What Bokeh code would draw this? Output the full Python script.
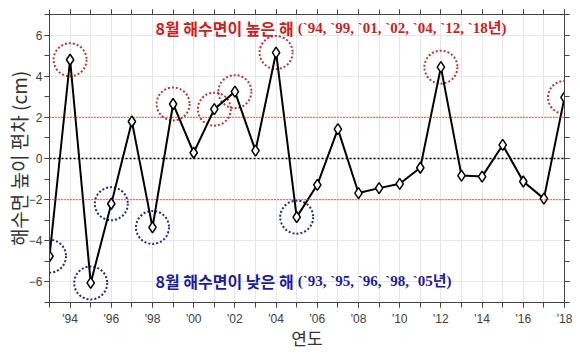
from bokeh.plotting import figure
from bokeh.models import FixedTicker, LinearAxis, Range1d, Span, Label
from bokeh.embed import file_html
from bokeh.resources import INLINE

# ---- data ----
years = list(range(1993, 2019))
anomaly = [-4.75, 4.8, -6.05, -2.2, 1.8, -3.35, 2.65, 0.28, 2.4, 3.25,
           0.38, 5.15, -2.85, -1.28, 1.43, -1.68, -1.44, -1.23, -0.45, 4.44,
           -0.83, -0.88, 0.66, -1.12, -1.95, 2.97]
high_years = [1994, 1999, 2001, 2002, 2004, 2012, 2018]
low_years = [1993, 1995, 1996, 1998, 2005]
thresholds = [2, -2]
xtick_years = list(range(1994, 2019, 2))
xtick_labels = ["'" + str(y)[2:] for y in xtick_years]
yticks = [-6, -4, -2, 0, 2, 4, 6]
yminor = list(range(-7, 8))
high_label = "8월 해수면이 높은 해"
low_label = "8월 해수면이 낮은 해"
high_list = "(" + ", ".join("`" + str(y)[2:] for y in high_years) + "년)"
low_list = "(" + ", ".join("`" + str(y)[2:] for y in low_years) + "년)"
x_title = "연도"
y_title = "해수면 높이 편차 (cm)"

RED = "#d41c1c"
BLUE = "#1c1ca0"
RED_C = "#c8323c"
BLUE_C = "#2424a0"
AX = "#444444"

p = figure(width=572, height=352, x_range=Range1d(1993, 2018), y_range=Range1d(-7, 7),
           output_backend="svg", toolbar_location=None,
           min_border_left=49, min_border_right=8, min_border_top=14, min_border_bottom=49,
           outline_line_color=AX)

def style_axis(ax, labels=True):
    ax.axis_line_color = AX
    ax.major_tick_line_color = AX
    ax.minor_tick_line_color = AX
    ax.major_tick_in = 0
    ax.major_tick_out = 5
    ax.minor_tick_in = 0
    ax.minor_tick_out = 5
    if labels:
        ax.major_label_text_font = "Liberation Sans"
        ax.major_label_text_font_size = "12px"
        ax.major_label_text_color = "#404040"
        ax.major_label_standoff = 2
    else:
        ax.major_label_text_font_size = "0px"
        ax.major_label_text_color = None
        ax.major_label_standoff = 0

bottom = p.xaxis[0]
left = p.yaxis[0]
bottom.ticker = FixedTicker(ticks=xtick_years, minor_ticks=years)
bottom.major_label_overrides = {y: l for y, l in zip(xtick_years, xtick_labels)}
style_axis(bottom)
bottom.major_label_standoff = 4
left.ticker = FixedTicker(ticks=yticks, minor_ticks=yminor)
style_axis(left)

top = LinearAxis(ticker=FixedTicker(ticks=xtick_years, minor_ticks=years))
style_axis(top, labels=False)
p.add_layout(top, "above")
right = LinearAxis(ticker=FixedTicker(ticks=yticks, minor_ticks=yminor))
style_axis(right, labels=False)
p.add_layout(right, "right")

bottom.axis_label = x_title
bottom.axis_label_text_font = "Noto Sans CJK KR"
bottom.axis_label_text_font_style = "normal"
bottom.axis_label_text_font_size = "17px"
bottom.axis_label_text_color = "#333333"
bottom.axis_label_standoff = -4

left.axis_label = y_title
left.axis_label_text_font = "Noto Sans CJK KR"
left.axis_label_text_font_style = "normal"
left.axis_label_text_font_size = "19px"
left.axis_label_text_color = "#333333"
left.axis_label_standoff = -6

p.xgrid.ticker = FixedTicker(ticks=years)
p.ygrid.ticker = FixedTicker(ticks=yticks)
p.xgrid.grid_line_color = "#e6e6e6"
p.ygrid.grid_line_color = "#e6e6e6"

for t in thresholds:
    p.add_layout(Span(location=t, dimension="width", line_color="#cc1111",
                      line_width=1.2, line_dash="1 2"))
p.add_layout(Span(location=0, dimension="width", line_color="black",
                  line_width=1.5, line_dash="2 2"))

val = dict(zip(years, anomaly))
p.scatter(high_years, [val[y] for y in high_years], marker="circle", size=33,
          fill_color=None, line_color=RED_C, line_width=2, line_dash="2 2")
p.scatter(low_years, [val[y] for y in low_years], marker="circle", size=33,
          fill_color=None, line_color=BLUE_C, line_width=2, line_dash="2 2")

p.line(years, anomaly, line_color="black", line_width=2)
p.scatter(years, anomaly, marker="diamond", size=11, fill_color="white",
          line_color="black", line_width=1.5)

def two_part(x, y, kor, lst, color):
    p.add_layout(Label(x=x, y=y, text=kor, text_align="right", text_baseline="middle",
                       text_font="Noto Sans CJK KR", text_font_style="bold",
                       text_font_size="16px", text_color=color))
    p.add_layout(Label(x=x + 0.2, y=y, text=lst, text_align="left", text_baseline="middle",
                       text_font="Liberation Serif, Noto Sans CJK KR", text_font_style="bold",
                       text_font_size="15px", text_color=color))

two_part(2004.85, 6.35, high_label, high_list, RED)
two_part(2004.85, -5.96, low_label, low_list, BLUE)

open("out.html", "w").write(file_html(p, INLINE))
